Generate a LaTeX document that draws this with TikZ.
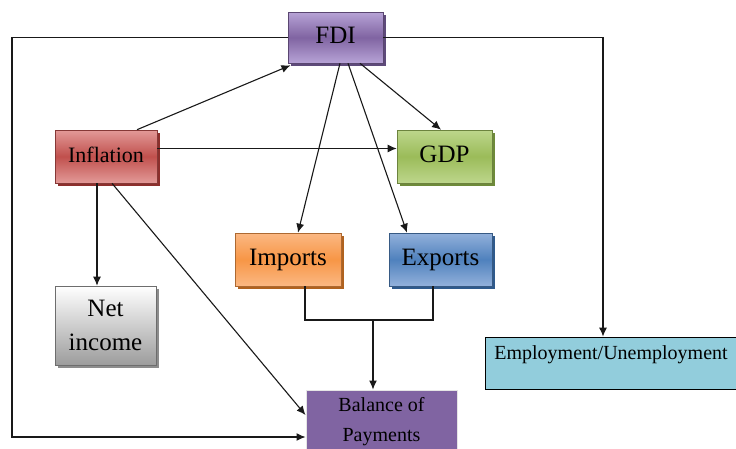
\documentclass[tikz,border=0pt]{standalone}
\usepackage{fontspec}
\setmainfont{Liberation Serif}
\usetikzlibrary{arrows.meta,calc}
\definecolor{fdiA}{HTML}{B7A3D6}
\definecolor{fdiB}{HTML}{8064A2}
\definecolor{fdiS}{HTML}{5E4A7A}
\definecolor{infA}{HTML}{E39A98}
\definecolor{infB}{HTML}{C0504D}
\definecolor{infS}{HTML}{8C2F2C}
\definecolor{gdpA}{HTML}{BDD68C}
\definecolor{gdpB}{HTML}{9BBB59}
\definecolor{gdpS}{HTML}{6E8A3A}
\definecolor{impA}{HTML}{FBB883}
\definecolor{impB}{HTML}{F79646}
\definecolor{impS}{HTML}{B0621F}
\definecolor{expA}{HTML}{93B1DB}
\definecolor{expB}{HTML}{4F81BD}
\definecolor{expS}{HTML}{2F5A8C}
\definecolor{netB}{HTML}{9C9C9C}
\definecolor{bopC}{HTML}{8064A2}
\definecolor{empC}{HTML}{92CDDC}
\newcommand{\up}[1]{\raisebox{4pt}{#1}}
\tikzset{
  x=1pt, y=-1pt,
  box/.style={rectangle, inner sep=0pt, align=center, draw=#1!70!black, line width=0.6pt},
  shade3/.style n args={2}{top color=#1, bottom color=#1, middle color=#2},
  lbl/.style={font=\fontsize{25}{28}\selectfont},
  conn/.style={draw=black!90, line width=1.1pt},
  arr/.style={conn, -{Latex[length=9pt,width=8pt]}},
}
\begin{document}
\begin{tikzpicture}
\useasboundingbox (0,0) rectangle (736,448);
\clip (0,0) rectangle (736,448);
% shadows
\fill[fdiS] (291,15) rectangle (386,66);
\fill[infS] (58,133) rectangle (160,186);
\fill[gdpS] (400,133) rectangle (495,186);
\fill[impS] (238,236) rectangle (344,289);
\fill[expS] (392,236) rectangle (495,289);
\fill[black!45] (58,289) rectangle (159,368);
% nodes
\node[box=fdiB, shade3={fdiA}{fdiB}, minimum width=95pt, minimum height=51pt, lbl] (fdi) at (335.5,37.5) {\up{FDI}};
\node[box=infB, shade3={infA}{infB}, minimum width=102pt, minimum height=53pt, font=\fontsize{22}{26}\selectfont] (infl) at (106,156.5) {\up{Inflation}};
\node[box=gdpB, shade3={gdpA}{gdpB}, minimum width=95pt, minimum height=53pt, lbl] (gdp) at (444.5,156.5) {\up{GDP}};
\node[box=impB, shade3={impA}{impB}, minimum width=106pt, minimum height=53pt, lbl] (imp) at (288,259.5) {\up{Imports}};
\node[box=expB, shade3={expA}{expB}, minimum width=103pt, minimum height=53pt, lbl] (exp) at (440.5,259.5) {\up{Exports}};
\node[box=netB, top color=white, bottom color=netB, minimum width=101pt, minimum height=79pt, font=\fontsize{25}{34}\selectfont] (net) at (105.5,325.5) {Net\\income};
\node[rectangle, inner sep=0pt, fill=bopC, draw=black!10, line width=1pt, minimum width=151pt, minimum height=64pt, align=center, font=\fontsize{20}{30}\selectfont] (bop) at (381.5,422) {Balance of\\Payments};
\node[rectangle, inner sep=0pt, fill=empC, draw=black, line width=0.8pt, minimum width=252pt, minimum height=52pt] (emp) at (611,363) {};
\node[anchor=north, inner sep=0pt, font=\fontsize{20}{24}\selectfont] (empt) at ([yshift=-9pt]emp.north) {Employment/Unemployment};
% coordinates
\coordinate (lt) at (12,37.5);
\coordinate (lb) at (12,437);
\coordinate (rt) at (603,37.5);
\coordinate (ib) at (305,320);
\coordinate (eb) at (433,320);
\coordinate (jn) at (373,320);
% connectors
\draw[arr] (fdi.west) -- (lt) -- (lb) -- (bop.west |- lb);
\draw[arr] (fdi.east) -- (rt) -- (rt |- emp.north);
\draw[arr] ([xshift=31pt]infl.north) -- ([xshift=-45pt,yshift=-2pt]fdi.south);
\draw[arr] ([yshift=8pt]infl.east) -- ([yshift=8pt]gdp.west);
\draw[arr] ([xshift=-9pt]infl.south) -- ([xshift=-8.5pt]net.north);
\draw[arr] ([xshift=6pt]infl.south) -- ([yshift=7pt]bop.west);
\draw[arr] ([xshift=4.5pt]fdi.south) -- ([xshift=10pt]imp.north);
\draw[arr] ([xshift=12.5pt]fdi.south) -- ([xshift=-33.5pt]exp.north);
\draw[arr] ([xshift=24.5pt]fdi.south) -- ([xshift=-3.5pt]gdp.north);
\draw[conn] (imp.south -| ib) -- (ib) -- (eb) -- (exp.south -| eb);
\draw[arr] (jn) -- (jn |- bop.north);
\end{tikzpicture}
\end{document}
